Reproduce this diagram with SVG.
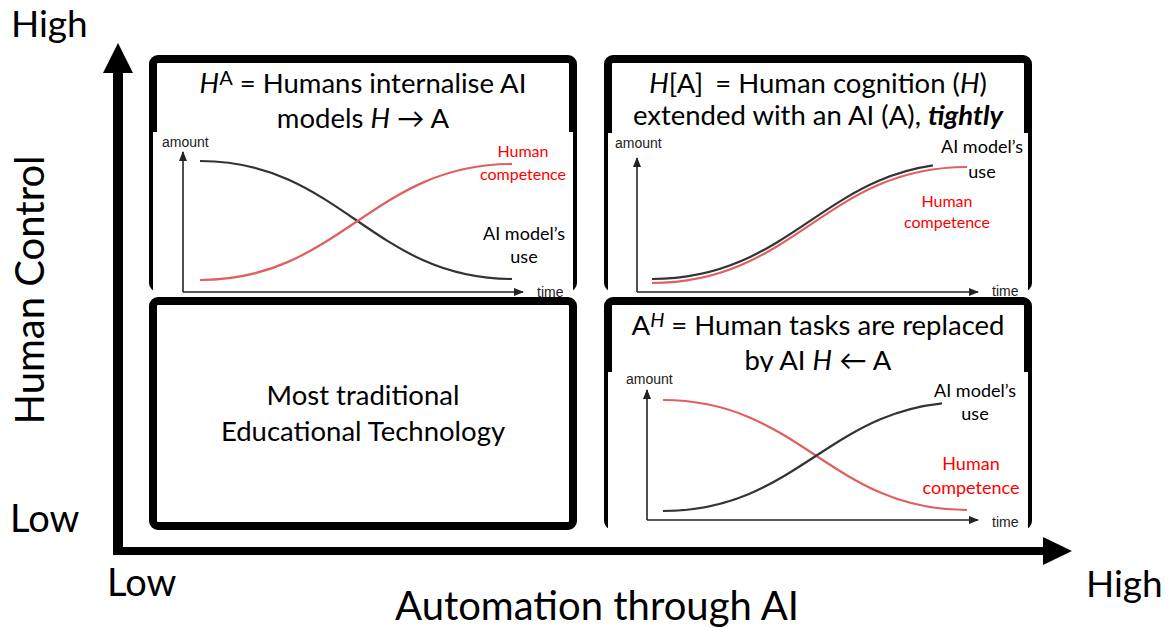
<svg xmlns="http://www.w3.org/2000/svg" width="1169" height="628" viewBox="0 0 1169 628">
  <style>
    .big { font-family: Lato, "Open Sans", "Liberation Sans", sans-serif; fill: #000; }
    .title { font-family: Lato, "Open Sans", "Liberation Sans", sans-serif; font-size: 27.5px; fill: #000; text-anchor: middle; }
    .lbl { font-family: Lato, "Open Sans", "Liberation Sans", sans-serif; font-size: 18px; text-anchor: middle; }
    .sm { font-size: 16px; }
    .red { fill: #ff0000; }
    .blk { fill: #000; }
    .ax { font-family: "Liberation Sans", Arial, sans-serif; font-size: 14px; fill: #222; }
    .frame { fill: #fff; stroke: #000; stroke-width: 8; }
    .chartbg { fill: #fff; }
    .axis { stroke: #222; stroke-width: 1.6; fill: none; }
    .cblack { stroke: #333; stroke-width: 2.2; fill: none; }
    .cred { stroke: #e06060; stroke-width: 2.2; fill: none; }
    .it { font-style: italic; }
  </style>
  <defs>
    <marker id="small-arrow" markerWidth="10" markerHeight="8" refX="9" refY="4" orient="auto" markerUnits="userSpaceOnUse">
      <path d="M0,0 L10,4 L0,8 Z" fill="#222"/>
    </marker>
    <clipPath id="clipTR"><rect x="600" y="100" width="333" height="250"/></clipPath>
    <clipPath id="clipBR"><rect x="600" y="380" width="342" height="160"/></clipPath>
  </defs>
  <rect width="1169" height="628" fill="#fff"/>

  <!-- Quadrant: H^A -->
  <g id="quad-internalise">
    <rect class="frame" x="153" y="59" width="420" height="229" rx="5"/>
    <text class="title" x="363" y="93"><tspan class="it">H</tspan><tspan dy="-8" font-size="20">A</tspan><tspan dy="8"> = Humans internalise AI</tspan></text>
    <text class="title" x="363" y="128">models <tspan class="it">H</tspan> → A</text>
    <rect class="chartbg" x="153" y="132" width="420" height="164"/>
    <text class="ax" x="162" y="147">amount</text>
    <line class="axis" x1="183" y1="292" x2="183" y2="152" marker-end="url(#small-arrow)"/>
    <line class="axis" x1="183" y1="292" x2="523" y2="292" marker-end="url(#small-arrow)"/>
    <text class="ax" x="537" y="297">time</text>
    <path class="cblack" d="M200,161 C340,161 372,279 512,279"/>
    <path class="cred" d="M200,280 C340,280 372,164 512,164"/>
    <text class="lbl sm red" x="523" y="157">Human</text>
    <text class="lbl sm red" x="523" y="180">competence</text>
    <text class="lbl blk" x="524" y="240">AI model’s</text>
    <text class="lbl blk" x="524" y="263">use</text>
  </g>

  <!-- Quadrant: H[A] -->
  <g id="quad-extended">
    <rect class="frame" x="608" y="59" width="420" height="229" rx="5"/>
    <text class="title" x="818" y="93"><tspan class="it">H</tspan>[A] <tspan dx="5">= Human cognition (</tspan><tspan class="it">H</tspan>)</text>
    <text class="title" x="818" y="125">extended with an AI (A), <tspan font-weight="bold" font-style="italic">tightly</tspan></text>
    <rect class="chartbg" x="608" y="133" width="420" height="163"/>
    <text class="ax" x="615" y="148">amount</text>
    <line class="axis" x1="637" y1="292" x2="637" y2="158" marker-end="url(#small-arrow)"/>
    <line class="axis" x1="637" y1="292" x2="978" y2="292" marker-end="url(#small-arrow)"/>
    <text class="ax" x="992" y="296">time</text>
    <path class="cblack" clip-path="url(#clipTR)" d="M652,279 C795,279 825,163 967,163"/>
    <path class="cred" d="M652,283 C795,283 825,167 967,167"/>
    <text class="lbl blk" x="982" y="153">AI model’s</text>
    <text class="lbl blk" x="982" y="178">use</text>
    <text class="lbl sm red" x="947" y="207">Human</text>
    <text class="lbl sm red" x="947" y="228">competence</text>
  </g>

  <!-- Quadrant: traditional -->
  <g id="quad-traditional">
    <rect class="frame" x="153" y="301" width="420" height="225" rx="5"/>
    <text class="title" x="363" y="405">Most traditional</text>
    <text class="title" x="363" y="441">Educational Technology</text>
  </g>

  <!-- Quadrant: A^H -->
  <g id="quad-replaced">
    <rect class="frame" x="608" y="301" width="420" height="225" rx="5"/>
    <text class="title" x="818" y="335">A<tspan class="it" dy="-8" font-size="20">H</tspan><tspan dy="8"> = Human tasks are replaced</tspan></text>
    <text class="title" x="818" y="370">by AI <tspan class="it">H</tspan> ← A</text>
    <rect class="chartbg" x="608" y="372" width="420" height="162"/>
    <text class="ax" x="626" y="384">amount</text>
    <line class="axis" x1="647" y1="520" x2="647" y2="390" marker-end="url(#small-arrow)"/>
    <line class="axis" x1="647" y1="520" x2="978" y2="520" marker-end="url(#small-arrow)"/>
    <text class="ax" x="992" y="527">time</text>
    <path class="cred" d="M663,400 C800,400 830,510 967,510"/>
    <path class="cblack" clip-path="url(#clipBR)" d="M663,511 C800,511 830,402 967,402"/>
    <text class="lbl blk" x="975" y="397">AI model’s</text>
    <text class="lbl blk" x="975" y="420">use</text>
    <text class="lbl red" x="971" y="470">Human</text>
    <text class="lbl red" x="971" y="494">competence</text>
  </g>

  <!-- Main axes -->
  <g id="connectors">
    <path d="M113,555 L113,73 L103,73 L118,43 L133,73 L123,73 L123,555 Z" fill="#000"/>
    <path d="M113,547 L1043,547 L1043,537 L1072,551 L1043,565 L1043,555 L113,555 Z" fill="#000"/>
  </g>

  <g id="axis-labels">
    <text class="big" x="11" y="37" font-size="37">High</text>
    <text class="big" x="10" y="532" font-size="38">Low</text>
    <text class="big" x="107" y="596" font-size="38">Low</text>
    <text class="big" x="1086" y="597" font-size="37">High</text>
    <text class="big" x="597" y="620" font-size="40" text-anchor="middle">Automation through AI</text>
    <text class="big" x="0" y="0" font-size="40" text-anchor="middle" transform="translate(44,290) rotate(-90)">Human Control</text>
  </g>
</svg>
